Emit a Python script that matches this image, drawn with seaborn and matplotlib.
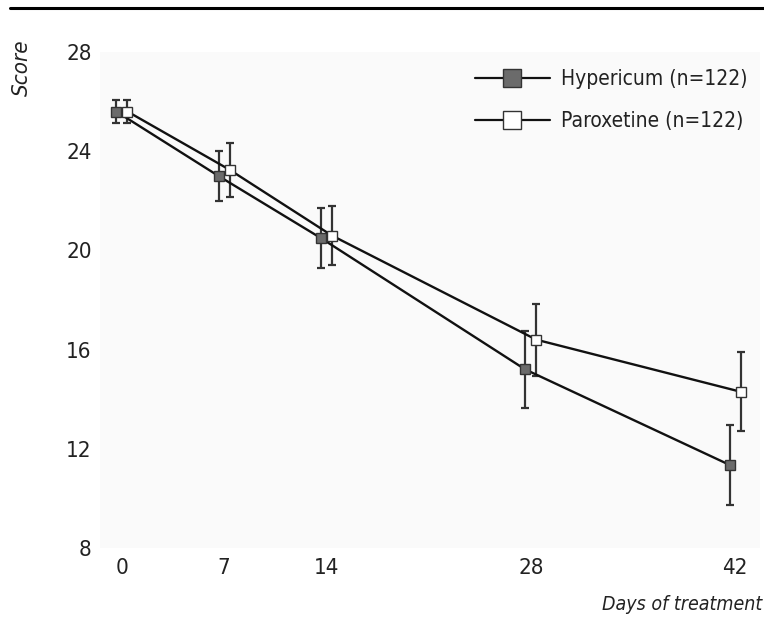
import matplotlib
matplotlib.use("Agg")
import matplotlib.pyplot as plt
import seaborn as sns
import pandas as pd
from matplotlib.lines import Line2D

days = [0, 7, 14, 28, 42]
hyp_mean = [25.6, 23.0, 20.5, 15.2, 11.35]
hyp_err = [0.45, 1.0, 1.2, 1.55, 1.6]
par_mean = [25.6, 23.25, 20.6, 16.4, 14.3]
par_err = [0.45, 1.1, 1.2, 1.45, 1.6]
series_names = ["Hypericum (n=122)", "Paroxetine (n=122)"]
y_ticks = [8, 12, 16, 20, 24, 28]

sns.set_style("white")
plt.rcParams['font.family'] = ['DejaVu Sans']
plt.rcParams['font.stretch'] = 'condensed'

fig = plt.figure(figsize=(7.64, 6.31), dpi=100)
ax = fig.add_axes([100/764, 83/631, 660/764, 496/631])
ax.set_facecolor("#fafafa")

dodge = 0.38
rows = []
for d, m in zip(days, hyp_mean):
    rows.append({"x": d - dodge, "y": m, "g": series_names[0]})
for d, m in zip(days, par_mean):
    rows.append({"x": d + dodge, "y": m, "g": series_names[1]})
df = pd.DataFrame(rows)

fills = {series_names[0]: "#6b6b6b", series_names[1]: "white"}

for name, means, errs, off in [(series_names[0], hyp_mean, hyp_err, -dodge),
                                (series_names[1], par_mean, par_err, dodge)]:
    xs = [d + off for d in days]
    ax.errorbar(xs, means, yerr=errs, fmt="none", ecolor="#333333",
                elinewidth=1.6, capsize=3, capthick=1.6, zorder=2)

for name in series_names:
    sub = df[df.g == name]
    sns.lineplot(data=sub, x="x", y="y", ax=ax, color="#111111", linewidth=1.7,
                 marker="s", markersize=7.5, markerfacecolor=fills[name],
                 markeredgecolor="#333333", markeredgewidth=1.0, zorder=3, legend=False)

ax.set_xlim(-1.5, 43.7)
ax.set_ylim(8, 28)
ax.set_xticks(days)
ax.set_xticklabels([str(d) for d in days])
ax.set_yticks(y_ticks)
ax.set_yticklabels([str(t) for t in y_ticks])
ax.tick_params(axis="both", length=0, labelsize=16, colors="#222222")
ax.tick_params(axis="x", pad=7)
ax.tick_params(axis="y", pad=6)
for s in ax.spines.values():
    s.set_visible(False)
ax.set_xlabel("")
ax.set_ylabel("")
ax.grid(False)

handles = [
    Line2D([0], [0], color="#111111", linewidth=1.6, marker="s", markersize=13,
           markerfacecolor=fills[n], markeredgecolor="#333333", markeredgewidth=1.0)
    for n in series_names
]
leg = ax.legend(handles, series_names, loc="upper right", bbox_to_anchor=(1.0, 0.99),
                frameon=False, fontsize=15, handlelength=3.6, handletextpad=0.55,
                labelspacing=1.05, borderaxespad=0.2)
for t in leg.get_texts():
    t.set_color("#222222")

fig.text(22/764, 1 - 68/631, "Score", rotation=90, style="italic", fontsize=16,
         ha="center", va="center", color="#222222")
fig.text(762/764, 1 - 604/631, "Days of treatment", style="italic", fontsize=14,
         ha="right", va="center", color="#222222")
fig.add_artist(Line2D([10/764, 1.0], [1 - 8/631, 1 - 8/631], color="black", linewidth=2.2))

fig.savefig("out.png", dpi=100, facecolor="white")
